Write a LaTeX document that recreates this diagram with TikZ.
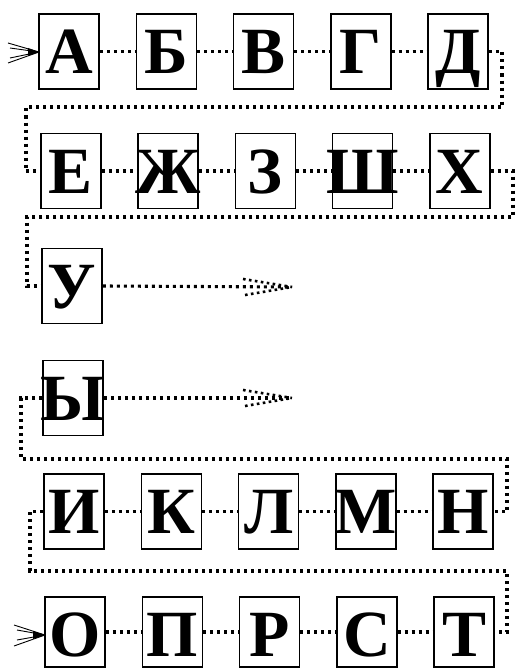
\documentclass[tikz,border=0pt]{standalone}
\usepackage{fontspec}
\setmainfont{Liberation Serif}
\begin{document}
\begin{tikzpicture}[x=1pt,y=-1pt,
  lbox/.style={draw, line width=1.6pt, minimum width=60pt, minimum height=75pt, inner sep=0pt},
  letter/.style={font=\bfseries\fontsize{66}{66}\selectfont, text height=44pt, text depth=0pt, inner sep=0pt},
  dots/.style={line width=3.1pt, dash pattern=on 3pt off 4pt},
  fandots/.style={line width=2.6pt, dash pattern=on 2.6pt off 3.4pt},
  fan/.style={line width=0.9pt}]
\useasboundingbox (0,0) rectangle (516,669);
\clip (0,0) rectangle (516,669);
% row 1
\foreach \L/\n [count=\i from 0] in {А/a,Б/b,В/v,Г/g,Д/d}{
  \node[lbox] (\n) at (69+97.3*\i,51.5) {};
  \node[letter] (l\n) at (\n) {\L};
}
% row 2
\foreach \L/\n [count=\i from 0] in {Е/e,Ж/zh,З/z,Ш/sh,Х/kh}{
  \node[lbox] (\n) at (71+97.2*\i,171) {};
  \node[letter] (l\n) at (\n) {\L};
}
% row 3 and 4
\node[lbox] (u) at (72,286) {};
\node[letter] (lu) at (u) {У};
\node[lbox] (y) at (73,398) {};
\node[letter] (ly) at (y) {Ы};
% row 5
\foreach \L/\n [count=\i from 0] in {И/i,К/k,Л/l,М/m,Н/n}{
  \node[lbox] (\n) at (74+97.3*\i,511.5) {};
  \node[letter] (l\n) at (\n) {\L};
}
% row 6 (boxes run to the lower edge)
\foreach \L/\n [count=\i from 0] in {О/o,П/p,Р/r,С/s,Т/t}{
  \node[lbox, minimum height=70pt] (\n) at (75+97.3*\i,632) {};
  \node[letter, yshift=-1pt] (l\n) at (75+97.3*\i,633) {\L};
}
% connectors within rows
\draw[dots] (a.east) -- (b.west);
\draw[dots] (b.east) -- (v.west);
\draw[dots] (v.east) -- (g.west);
\draw[dots] (g.east) -- (d.west);
\draw[dots] (e.east) -- (zh.west);
\draw[dots] (zh.east) -- (z.west);
\draw[dots] (z.east) -- (sh.west);
\draw[dots] (sh.east) -- (kh.west);
\draw[dots] (i.east) -- (k.west);
\draw[dots] (k.east) -- (l.west);
\draw[dots] (l.east) -- (m.west);
\draw[dots] (m.east) -- (n.west);
\draw[dots] (o.east) -- (p.west);
\draw[dots] (p.east) -- (r.west);
\draw[dots] (r.east) -- (s.west);
\draw[dots] (s.east) -- (t.west);
% turns between rows
\coordinate (r1) at (502,107);
\coordinate (l1) at (26,107);
\draw[dots] (d.east) -| (r1) -- (l1) |- (e.west);
\coordinate (r2) at (513,217);
\coordinate (l2) at (27,217);
\draw[dots] (kh.east) -| (r2) -- (l2) |- (u.west);
\coordinate (l3) at (21,459);
\coordinate (r3) at (507,459);
\draw[dots] (y.west) -| (l3) -- (r3) |- (n.east);
\coordinate (l4) at (30,571);
\coordinate (r4) at (507,571);
\draw[dots] (i.west) -| (l4) -- (r4) |- (t.east);
% dotted arrows
\coordinate (tu) at (292,287);
\coordinate (tu1) at (243,279);
\coordinate (tu2) at (245,295);
\draw[dots] (u.east) -- (tu);
\draw[fandots] (tu1) -- (tu);
\draw[fandots] (tu2) -- (tu);
\coordinate (ty) at (292,398);
\coordinate (ty1) at (243,390);
\coordinate (ty2) at (245,406);
\draw[dots] (y.east) -- (ty);
\draw[fandots] (ty1) -- (ty);
\draw[fandots] (ty2) -- (ty);
% entry arrows
\coordinate (ta) at (39,52);
\coordinate (fa1) at (8,43);
\coordinate (fa2) at (10,48);
\coordinate (fa3) at (10,58);
\coordinate (fa4) at (8,63);
\draw[fan] (fa1) -- (ta) (fa2) -- (ta) (fa3) -- (ta) (fa4) -- (ta);
\fill (ta) -- ++(-11,-4) -- ++(0,8) -- cycle;
\coordinate (to) at (45,635);
\coordinate (fo1) at (14,625);
\coordinate (fo2) at (17,630);
\coordinate (fo3) at (17,640);
\coordinate (fo4) at (14,646);
\draw[fan] (fo1) -- (to) (fo2) -- (to) (fo3) -- (to) (fo4) -- (to);
\fill (to) -- ++(-12,-4) -- ++(0,8) -- cycle;
\end{tikzpicture}
\end{document}
